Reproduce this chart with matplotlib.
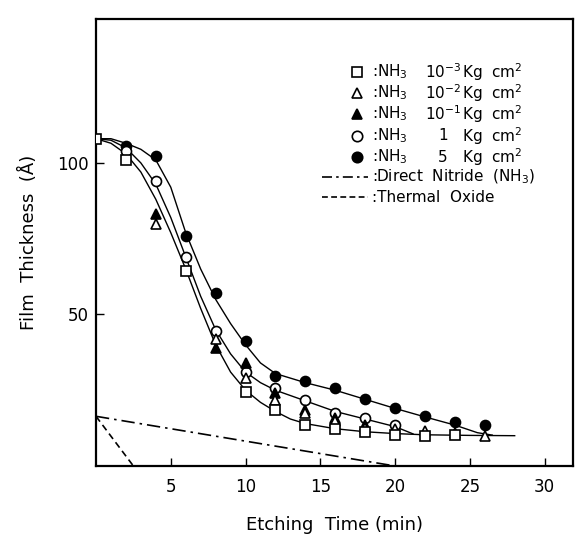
import matplotlib
matplotlib.use("Agg")
import matplotlib.pyplot as plt
from matplotlib.lines import Line2D

plt.rcParams["font.family"] = ["DejaVu Sans"]
plt.rcParams["mathtext.fontset"] = "dejavusans"

# --- measured points (etching time in min, thickness in angstrom) ---
sq_t = [0, 2, 6, 10, 12, 14, 16, 18, 20, 22, 24]
sq_y = [108, 101, 64.5, 24.3, 18.4, 13.5, 12.2, 11.2, 10.2, 9.9, 10.2]

tri_t = [4, 8, 10, 12, 14, 16, 18, 20, 22, 24, 26]
tri_y = [80, 42, 29, 21.7, 17.4, 14.8, 12.5, 12.2, 11.6, 10.9, 9.9]

ftri_t = [4, 8, 10, 12, 14, 16, 18]
ftri_y = [83, 38.8, 33.9, 24, 18.5, 15.8, 13.6]

circ_t = [2, 4, 6, 8, 10, 12, 14, 16, 18, 20]
circ_y = [104, 94, 69, 44.7, 31, 25.7, 21.8, 17.4, 16, 13.4]

fcirc_t = [2, 4, 6, 8, 10, 12, 14, 16, 18, 20, 22, 24, 26]
fcirc_y = [105.6, 102.3, 76, 57, 41.2, 29.7, 28.2, 25.9, 22, 19.1, 16.5, 14.5, 13.4]

# hand-drawn guide curves read along their path
low_t = [0, 1, 2, 3, 4, 5, 6, 7, 8, 9, 10, 11, 12, 13, 14, 16, 18, 20, 22, 25, 28]
low_y = [108, 106.5, 103, 97, 88, 77, 65, 52, 40, 31, 25, 21, 18, 15.5, 14, 12.3, 11.3, 10.7, 10.3, 10.1, 10]
mid_t = [0, 1, 2, 3, 4, 5, 6, 7, 8, 9, 10, 11, 12, 14, 16, 18, 20, 21.2]
mid_y = [108, 107.5, 105, 100, 93, 82, 69, 56, 45, 37, 31, 27.5, 25, 21.5, 18, 15.5, 13, 10.6]
top_t = [0, 1, 2, 3, 4, 5, 6, 7, 8, 9, 10, 11, 12, 14, 16, 18, 20, 22, 24, 25.5, 26.5]
top_y = [108, 108, 106.5, 104.5, 101, 92, 77, 65, 55, 47, 40, 34, 30.5, 27.5, 25, 22, 19, 16.2, 13.5, 11, 10.2]

nitride_t = [0, 20]
nitride_y = [16.4, 0]
oxide_t = [0, 2.5]
oxide_y = [16.4, 0]

x_ticks = [5, 10, 15, 20, 25, 30]
y_ticks = [50, 100]

W, H = 584, 535
fig = plt.figure(figsize=(W / 100, H / 100), dpi=100)
ax = fig.add_axes([96 / W, 1 - 466 / H, 477 / W, 447 / H])

for t, y in [(low_t, low_y), (mid_t, mid_y), (top_t, top_y)]:
    ax.plot(t, y, color="black", lw=1.0, zorder=2)
ax.plot(nitride_t, nitride_y, color="black", lw=1.2, linestyle=(0, (8, 3, 1.5, 3)))
ax.plot(oxide_t, oxide_y, color="black", lw=1.2, linestyle=(0, (4, 2.5)))

mk = dict(linestyle="none", color="black", zorder=3, markeredgewidth=1.2)
ax.plot(fcirc_t, fcirc_y, marker="o", ms=7.2, markerfacecolor="black", **mk)
ax.plot(circ_t, circ_y, marker="o", ms=7.2, markerfacecolor="white", **mk)
ax.plot(ftri_t, ftri_y, marker="^", ms=7.8, markerfacecolor="black", **mk)
ax.plot(tri_t, tri_y, marker="^", ms=7.8, markerfacecolor="white", **mk)
ax.plot(sq_t, sq_y, marker="s", ms=7, markerfacecolor="white", **mk)

ax.set_xlim(0, 31.9)
ax.set_ylim(0, 147.5)
ax.set_xticks(x_ticks)
ax.set_yticks(y_ticks)
ax.tick_params(direction="in", length=6, width=1.0, labelsize=12)
ax.tick_params(axis="x", pad=9)
ax.tick_params(axis="y", pad=5)
for s in ax.spines.values():
    s.set_linewidth(1.6)
ax.set_xlabel("Etching  Time (min)", fontsize=13, labelpad=14)
ax.set_ylabel("Film  Thickness  (Å)", fontsize=13, labelpad=14)


# --- legend, drawn in figure pixels ---
def fx(px):
    return px / W


def fy(py):
    return 1 - py / H


rows = [72, 93, 114, 136, 157, 177, 197]
keys = [("s", "white"), ("^", "white"), ("^", "black"), ("o", "white"), ("o", "black")]
nums = ["10$^{-3}$", "10$^{-2}$", "10$^{-1}$", "1", "5"]
for (m, fc), num, py in zip(keys, nums, rows):
    fig.add_artist(Line2D([fx(357)], [fy(py)], marker=m, ms=7 if m == "s" else 7.5,
                          markerfacecolor=fc, color="black", markeredgewidth=1.2,
                          linestyle="none"))
    fig.text(fx(372), fy(py), ":NH$_3$", fontsize=11, va="center", ha="left")
    fig.text(fx(443), fy(py), num, fontsize=11, va="center", ha="center")
    fig.text(fx(462), fy(py), "Kg  cm$^2$", fontsize=11, va="center", ha="left")

fig.add_artist(Line2D([fx(322), fx(368)], [fy(rows[5])] * 2, color="black", lw=1.2,
                      linestyle=(0, (6, 2.5, 1.5, 2.5))))
fig.add_artist(Line2D([fx(322), fx(368)], [fy(rows[6])] * 2, color="black", lw=1.2,
                      linestyle=(0, (3.5, 2))))
fig.text(fx(372), fy(rows[5]), ":Direct  Nitride  (NH$_3$)", fontsize=11, va="center")
fig.text(fx(372), fy(rows[6]), ":Thermal  Oxide", fontsize=11, va="center")

fig.savefig("out.png", dpi=100, facecolor="white")
